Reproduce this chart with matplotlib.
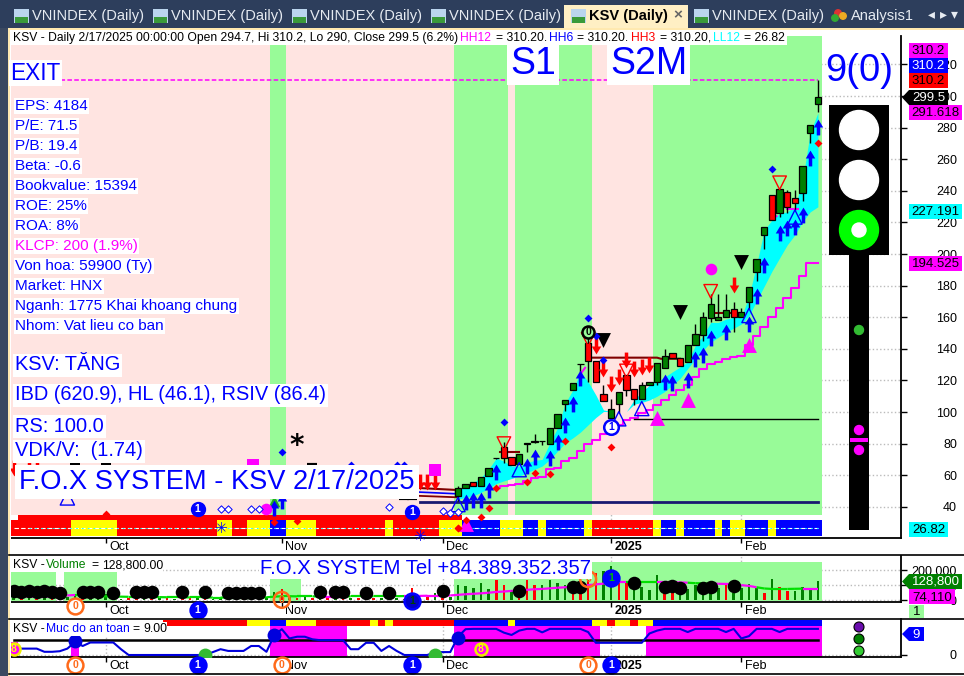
import matplotlib
matplotlib.use("Agg")
import matplotlib.pyplot as plt
from matplotlib.patches import Rectangle, Circle, Polygon
from matplotlib.transforms import ScaledTranslation

plt.rcParams["font.family"] = ["Liberation Sans", "DejaVu Sans"]

# ---- data ----
first_candle = 58
opens = [46.6,51.8,55.8,53.3,59.3,70.6,77.7,71.5,66.9,80.0,81.3,81.6,80,90.1,105.3,113.9,130.3,143.6,132.3,111.6,96.3,105.1,123.5,114.7,108.2,117,118.9,127.7,137.3,134.2,131.4,142.7,149,159.7,158,159.9,165.3,159.9,169.9,188.7,212.3,237.6,225.7,239.5,235.7,238.9,276.9,294.7]
highs = [53.3,54.5,55.8,58.9,64.6,70.9,81,71.5,73.5,80.4,86.1,81.8,89.6,98.6,107.8,118.5,130.5,152.6,132.3,117,108.2,112.8,123.5,114.7,118.7,119.1,131,140,137.3,134.2,142.3,155.7,163,174.5,174.5,174.5,169.9,166.1,179.3,196.9,216.9,237.6,241.4,240.7,240.7,255.8,281.5,310.2]
lows = [43.9,51.8,52.9,53.3,59.3,70.5,67.9,66.2,66.9,74.8,80.4,78.8,80,90.1,100.7,113.9,125.4,119.1,118.9,107,96.3,99.2,110.3,104.5,108.2,117,117,127.7,134,129.1,131.4,142.7,145.2,156.7,158,159.9,150.5,159.9,165.1,182.9,203.1,221.3,223.2,225.7,227.8,233.6,270,290]
closes = [52.2,54.5,52.9,58.9,64.6,70.9,70.8,66.2,73.5,80.2,81.6,81.8,89.6,98.6,107.8,118.5,130.5,132.1,118.9,107,102.2,112.8,113.9,108.4,117.2,119.1,131,135.4,134,129.1,142.3,149.2,159.9,168.6,159.9,164.7,159.9,163,179.3,196.9,216.9,221.3,241.4,229.5,232.6,255.8,281.5,299.5]

cyan_upper = [50.1,53.9,55.4,58.5,63.7,70.8,68.9,65.8,65.8,67.9,69.4,70,80.4,89.9,105.5,113.9,125.4,119.1,110.8,101.3,100.3,100.3,100.3,107.6,112.8,117,119.1,122.2,125.4,128.5,131.7,142.1,148.4,156.7,156.7,158.8,159.9,159.9,173.4,193.3,215.2,221.5,225.7,226.7,229.9,246.6,276.9,289.4]
cyan_lower = [44.9,45.9,47,49.1,51.8,54.7,56.4,57.9,59.5,61.6,63.7,65.8,70,75.2,80.4,83.6,87.3,91.9,96.5,100.3,100.3,100.3,100.3,104.9,106.1,107.6,110,113,117,121.2,127.5,133.7,139,144.2,147.3,150.5,153,155.7,160.9,170.3,179.7,189.1,197.5,205.8,212.1,220.5,226.7,229.9]

stair_start = 63
stair_line = [52.2,53.3,53.9,54.7,56.4,58.5,59.1,63.7,64.4,69,71,75.2,80,82.5,86.1,88.8,91.9,95.1,96.1,99.2,101.3,104.5,107.6,110.8,113.9,117,122.2,127.5,130.6,131.6,133.7,134.8,135.4,142.5,148.4,154,159.9,166.1,172.4,178.7,186,194.5,194.5]

arrow_up_bars = [59,60,61,62,63,67,68,70,71,72,73,74,85,86,88,89,90,91,93,96,97,98,100,101,102,103,104,105,34,35]
arrow_up_vals = [42.8,44.5,44.5,50.8,62.3,65.6,71.5,70.6,81.3,91.5,105.1,121.8,118.9,118.5,120.4,133.5,136,147.1,150.9,155.5,173.2,193.3,213.6,216.3,217.1,224.4,260.6,280.2,39.5,43.5]
arrow_dn_bars = [76,77,78,79,80,81,82,83,94,53,54,55,0,2,3]
arrow_dn_vals = [141.7,127,117.6,122.2,133.1,127.3,128.5,129.6,180.1,56,56,56,64.4,65.6,65.6]
black_tri_bars = [77,87,95]
black_tri_vals = [145.4,163,195]
red_hollow_bars = [64,75,80,91,100]
red_hollow_vals = [80,146,126,176.4,245.1]
blue_hollow_bars = [58,66,79,82,96,102,7]
blue_hollow_vals = [41.4,63.5,95.7,102.2,161.1,223.4,45.6]
magenta_up_bars = [59,84,88,96]
magenta_up_vals = [29,95.9,107.6,142.5]
red_dot_bars = [72,68,67,70,63,62,61,59,58,78,105,12,34,37,58]
red_dot_vals = [81.7,61.6,56,61,52.2,39.5,33.3,31.8,26.6,77.9,270.4,35.4,30.6,31,26.6]
blue_dot_bars = [75,64,77,76,99,35,44,50,51]
blue_dot_vals = [159.7,93.6,133.1,148.4,254.1,74.4,66.6,66.6,66.6]
open_dia_bars = [27,28,31,32,49,56,57,58]
open_dia_vals = [38.7,38.5,38.9,38.7,39.6,37.3,36.2,36.6]
black_bits_bars = [8,12,39,51,52]
black_bits_vals = [66.6,66.6,66.6,45.6,45.6]

green_spans = [(33.5,35.5),(57.5,64.5),(65.5,75.5),(83.5,105.5)]
strip_edges = [-0.36,7.5,13.5,26.5,28.5,30.5,33.5,35.5,39.5,48.5,49.5,55.5,58.5,63.5,66.5,68.5,69.5,74.5,75.5,83.5,84.5,86.5,87.5,91.5,92.5,93.5,95.5,98.5,99.5,105.5]
strip_cols = ["red","yellow","red","yellow","red","yellow","blue","yellow","red","yellow","red","yellow","blue","yellow","blue","yellow","blue","yellow","red","yellow","blue","yellow","blue","yellow","blue","yellow","blue","yellow","blue"]

month_bars = [12,35,56,78,95]
month_names = ["Oct","Nov","Dec","2025","Feb"]

volume = [18000,13000,20000,11000,15000,12000,16000,24000,42000,15000,12000,20000,42000,13000,9000,13000,11000,15000,9000,12000,14000,10000,12000,15000,13000,11000,9000,14000,16000,12000,15000,11000,13000,20000,57000,75000,30000,16000,24000,13000,20000,15000,11000,24000,13000,15000,11000,18000,13000,20000,15000,11000,79000,15000,20000,50000,18000,24000,101000,97000,79000,
          112000,73000,134000,101000,68000,24000,134000,101000,101000,134000,112000,101000,46000,46000,134000,178000,196000,227000,134000,117000,68000,86000,68000,167000,46000,46000,35000,73000,101000,46000,46000,79000,112000,46000,79000,108000,79000,46000,141000,90000,62000,62000,90000,68000,128800]
vol_cols = list("grgrgrgggrgggrgrrgrgrgrrgrggrgrgrggrgrgrgrgrgrgrgrgrrgrgrggg") + list("gggrrgrrrgggg") + list("rrrrgg") + list("rrggggr") + list("rggggggrgggg") + list("rgrrggg")
vol_ma = [26000,26000,25000,24000,24000,25000,30000,32000,35000,33000,30000,28000,26000,25000,24000,23000,23000,22000,22000,21000,20000,20000,20000,19000,19000,19000,18000,18000,17000,17000,17000,17000,18000,20000,24000,27000,27000,26000,26000,26000,25000,25000,25000,25000,26000,26000,26000,27000,27000,27000,27000,28000,28000,29000,30000,30000,30000,32000,36000,40000,43000,
          46000,50000,55000,58000,62000,65000,69000,73000,75000,79000,83000,86000,90000,95000,100000,105000,110000,115000,119000,119000,119000,119000,119000,119000,119000,119000,118000,116000,113000,112000,110000,109000,108000,106000,100000,95000,86000,78000,75000,75000,75000,76000,77000,77000,77000]
vol_ma_cols = list("m"*8) + list("g"*6) + list("g"*26) + list("m"*3) + list("g"*8) + list("m"*10) + list("m"*19) + list("g"*4) + list("m"*4) + list("g"*3) + list("m"*6) + list("g"*6) + list("m"*3)
vol_dot_bars = [0,1,2,3,4,5,6,9,10,11,13,16,17,18,22,25,28,29,30,31,32,40,42,43,46,49,56,66,73,74,81,85,86,87,90,91,94]
vol_dot_vals = [61000,55000,60000,58000,61000,58000,46000,57000,57000,55000,46000,52000,52000,52000,52000,52000,50000,48000,50000,48000,50000,52000,55000,57000,50000,50000,61000,64000,90000,86000,112000,90000,94000,79000,79000,90000,92000]
vol_green_spans = [(-0.36,5.5),(6.5,13.5),(33.5,37.5),(57.5,105.5)]

safety = [2.2,2.2,2.2,2.2,1.1,1.1,1.3,2.2,4.5,3.1,4.3,4.3,4.3,4.3,2,0,0,0,0,0,0,0,0,0,0,0,1,2,1.4,1.4,1.4,3.1,3.1,1.1,6.8,8.9,5.7,6.3,6.3,5.4,5.1,5.1,5.1,5.1,2,2,4.2,4.2,1.4,3.1,1.4,0,0,0,0,1,1,1,6.3,8.9,9,
          9,9,9,7.7,6.9,8.4,9,9,7.8,9,9,9,9,9,7.9,4.2,4.2,4.2,4.2,4.2,4.2,4.2,7.4,8.4,9,9,9,7.9,9,9,9,9,7.9,9,5.7,6.5,9,9,9,7.9,9,9,9,9,9]
safety_spans = [(-0.36,0.5),(7.5,8.5),(33.5,43.5),(57.5,76.5),(82.5,105.5)]
safety_tops = [4.5,3,10,10,10]
top_edges = [19.5,30.5,33.5,35.5,39.5,46.5,47.5,48.5,49.5,57.5,64.5,65.5,75.5,77.5,78.5,80.5,81.5,83.5,105.5]
top_cols = ["red","yellow","blue","yellow","red","yellow","red","yellow","red","blue","yellow","blue","yellow","red","yellow","red","yellow","blue"]

# ---- helpers ----
W, H = 964, 676
BLUE, MAG, PINK, LGREEN = "#0000FF", "#FF00FF", "#FFE4E1", "#98FB98"

fig = plt.figure(figsize=(W / 100, H / 100), dpi=100, facecolor="white")


def panel(top, bottom, ylim):
    a = fig.add_axes([11 / W, 1 - bottom / H, 890 / W, (bottom - top) / H])
    a.set_xlim(-0.36, 115.85)
    a.set_ylim(*ylim)
    a.set_axisbelow(True)
    a.grid(True, color="#BBBBBB", ls=":", lw=1)
    a.spines["top"].set_visible(False)
    a.spines["left"].set_visible(False)
    a.spines["right"].set_linewidth(1.3)
    a.spines["bottom"].set_linewidth(1.3)
    a.yaxis.tick_right()
    a.set_xticks(month_bars)
    a.set_xticklabels(month_names, fontsize=9)
    a.tick_params(axis="x", length=3.5, width=1, pad=-1.5)
    a.tick_params(axis="y", length=4.3, width=1, pad=36, labelsize=9)
    off = ScaledTranslation(2.5 / 72, 0, fig.dpi_scale_trans)
    for lab in a.get_xticklabels():
        lab.set_ha("left")
        lab.set_transform(lab.get_transform() + off)
        if lab.get_text() == "2025":
            lab.set_fontweight("bold")
    return a


def badge(a, x, y, txt, edge, face, col, size=130):
    a.scatter([x], [y], s=size, c=face, edgecolors=edge, linewidths=1.8, zorder=8, clip_on=False)
    a.text(x, y, txt, color=col, fontsize=7.5, fontweight="bold", ha="center", va="center", zorder=9, clip_on=False)


up_arrow = [(-0.22, -1), (0.22, -1), (0.22, 0), (0.6, 0), (0, 1), (-0.6, 0), (-0.22, 0), (-0.22, -1)]
dn_arrow = [(x, -y) for x, y in up_arrow]

# ---- main price panel ----
ax = panel(36, 538, (20.25, 338))
ax.set_yticks(range(40, 321, 20))
for lab in ax.get_yticklabels():
    lab.set_ha("right")
ax.axvspan(-0.36, 105.5, ymin=23 / 502, ymax=1, color=PINK, lw=0, zorder=1)
for a0, b0 in green_spans:
    ax.axvspan(a0, b0, ymin=23 / 502, ymax=1, color=LGREEN, lw=0, zorder=1.1)

for i in range(len(strip_cols)):
    ax.broken_barh([(strip_edges[i], strip_edges[i + 1] - strip_edges[i])], (21.5, 10.1), color=strip_cols[i], lw=0, zorder=2)
ax.broken_barh([(0.5, 58)], (31.6, 3.2), color="red", lw=0, zorder=2)
ax.plot([0, 105], [26.82, 26.82], color="white", lw=0.8, ls=(0, (4, 2)), zorder=3)
ax.plot([2, 105], [26.82, 26.82], color="cyan", lw=0.6, ls=(0, (2, 5)), zorder=3)

bars = list(range(first_candle, first_candle + len(opens)))
ax.fill_between(bars, cyan_lower, cyan_upper, color="cyan", lw=0, zorder=3)
ax.plot(range(stair_start, stair_start + len(stair_line)), stair_line, color=MAG, lw=1.5, drawstyle="steps-mid", zorder=4)
ax.plot([99, 99.6], [222, 224], color=MAG, lw=1.5, zorder=4)
ax.plot([101, 102.4], [228.5, 228.5], color=MAG, lw=1.5, zorder=4)
ax.plot([74, 74.6], [124, 128], color=MAG, lw=1.5, zorder=4)

ax.plot([2.5, 105], [310.2, 310.2], color=MAG, lw=1.1, ls=(0, (3, 1.5)), zorder=4)
ax.plot([53, 105], [43, 43], color="#191970", lw=2, zorder=4)
ax.plot([81, 105], [95.4, 95.4], color="black", lw=1, zorder=4)
ax.plot([52.5, 58], [52, 50.6], color="#800000", lw=1.5, zorder=4)
ax.plot([52.5, 58], [49.4, 48.2], color="blue", lw=1.2, zorder=4)
ax.plot([52.5, 58], [47, 46], color="#800000", lw=1.3, zorder=4)
ax.plot([63.5, 66], [74.4, 74.4], color="#800000", lw=1.5, zorder=4)
ax.plot([75, 84, 84.5, 87], [134.4, 134.4, 133.7, 133.7], color="#800000", lw=1.5, zorder=4)
ax.plot([91, 95], [162.6, 162.6], color="#800000", lw=1.5, zorder=4)

candle_cols = ["#008000" if c >= o else "red" for o, c in zip(opens, closes)]
ax.vlines(bars, lows, highs, color="black", lw=1, zorder=5)
ax.bar(bars, [c - o for o, c in zip(opens, closes)], bottom=opens, width=0.82, color=candle_cols, edgecolor="black", lw=0.9, zorder=6)

ax.scatter(arrow_up_bars, arrow_up_vals, marker=up_arrow, s=130, c=BLUE, linewidths=0, zorder=7)
ax.scatter(arrow_dn_bars, arrow_dn_vals, marker=dn_arrow, s=130, c="red", linewidths=0, zorder=7)
ax.scatter(black_tri_bars, black_tri_vals, marker="v", s=115, c="black", linewidths=0, zorder=7)
ax.scatter(red_hollow_bars, red_hollow_vals, marker="v", s=95, facecolors="none", edgecolors="red", linewidths=1, zorder=7)
ax.scatter(blue_hollow_bars, blue_hollow_vals, marker="^", s=105, facecolors="none", edgecolors=BLUE, linewidths=1, zorder=7)
ax.scatter(magenta_up_bars, magenta_up_vals, marker="^", s=115, c=MAG, linewidths=0, zorder=7)
ax.scatter([91], [190.6], s=70, c=MAG, linewidths=0, zorder=7)
ax.scatter([33], [38.7], s=70, c=MAG, linewidths=0, zorder=7)
ax.scatter([34], [43.5], marker="^", s=70, c="#22AA22", linewidths=0, zorder=6.5)
ax.scatter([31.2, 55], [66.5, 63], marker="s", s=70, c=MAG, linewidths=0, zorder=7)
ax.scatter(red_dot_bars, red_dot_vals, marker="D", s=16, c="red", linewidths=0, zorder=7.5)
ax.scatter(blue_dot_bars, blue_dot_vals, marker="D", s=16, c=BLUE, linewidths=0, zorder=7.5)
ax.scatter(open_dia_bars, open_dia_vals, marker="D", s=14, facecolors="white", edgecolors=BLUE, linewidths=0.7, zorder=7.5)
ax.scatter(black_bits_bars, black_bits_vals, marker="_", s=60, c="black", linewidths=3, zorder=6)
ax.text(37, 78.5, "*", fontsize=20, fontweight="bold", color="black", ha="center", va="center", zorder=8, family="DejaVu Sans")
ax.text(27, 26, "\u2733", fontsize=11, color=BLUE, ha="center", va="center", zorder=8, family="DejaVu Sans")
ax.text(53, 21, "\u2733", fontsize=11, color=BLUE, ha="center", va="center", zorder=8, family="DejaVu Sans", clip_on=False)
badge(ax, 78, 90.5, "1", BLUE, "white", BLUE, size=110)
badge(ax, 75, 150.5, "0", "black", LGREEN, "black", size=75)
badge(ax, 24, 38.3, "1", BLUE, BLUE, "white", size=85)
badge(ax, 52, 36.6, "1", BLUE, BLUE, "white", size=85)

# ---- volume panel ----
vax = panel(556, 602, (-11220, 292380))
vax.set_yticks([0, 100000, 200000])
vax.set_yticklabels(["0", "100,000", "200,000"])
for lab in vax.get_yticklabels():
    lab.set_ha("right")
for a0, b0 in vol_green_spans:
    vax.axvspan(a0, b0, ymin=0.02, ymax=0.87, color=LGREEN, lw=0, zorder=1)
vax.bar(range(len(volume)), volume, width=0.33,
        color=["#008000" if c == "g" else "red" for c in vol_cols], lw=0, zorder=3)
for i in range(len(vol_ma) - 1):
    vax.plot([i, i + 1], vol_ma[i:i + 2], color=MAG if vol_ma_cols[i] == "m" else "#00E000", lw=1.6, zorder=4, solid_capstyle="butt")
vax.scatter(vol_dot_bars, vol_dot_vals, s=95, c="black", linewidths=0, zorder=5)
badge(vax, 8, -37600, "0", "#FF6A1A", "white", "#FF6A1A")
badge(vax, 24, -64000, "1", BLUE, BLUE, "white")
badge(vax, 35, 3000, "0", "#FF6A1A", "none", "#FF6A1A")
badge(vax, 52, -2000, "1", BLUE, "#0000C8", "#004000")
badge(vax, 75, 140000, "0", "#FF6A1A", "none", "#FF6A1A")
badge(vax, 78, 147000, "1", BLUE, BLUE, "#00C000")

# ---- safety panel ----
sax = panel(619, 657, (-0.69, 12.4))
sax.set_yticks([0])
sax.set_yticklabels(["0"])
for lab in sax.get_yticklabels():
    lab.set_ha("right")
for (a0, b0), top in zip(safety_spans, safety_tops):
    sax.fill_between([a0, b0], -0.7, top, color=MAG, lw=0, zorder=1)
for i in range(len(top_cols)):
    sax.broken_barh([(top_edges[i], top_edges[i + 1] - top_edges[i])], (10, 1.9), color=top_cols[i], lw=0, zorder=2)
sax.plot(range(len(safety)), safety, color="#0000DD", lw=1.5, zorder=4)
sax.plot([0, 105], [5, 5], color="black", lw=1.8, zorder=3)
sax.scatter([8, 34, 58], [4.9, 6.9, 5.8], s=100, c="#0000DD", linewidths=0, zorder=5)
sax.scatter([25, 55], [0, 0], s=100, c="#33BB33", linewidths=0, zorder=5)
badge(sax, 0, 2, "8", "#EEEE00", MAG, "#FFFF00", size=75)
badge(sax, 61, 2, "8", "#EEEE00", MAG, "#FFFF00", size=75)
badge(sax, 8, -3.4, "0", "#FF6A1A", "white", "#FF6A1A")
badge(sax, 24, -3.4, "1", BLUE, BLUE, "white")
badge(sax, 35, -3.4, "0", "#FF6A1A", "white", "#FF6A1A")
badge(sax, 52, -3.4, "1", BLUE, BLUE, "white")
badge(sax, 75, -3.4, "0", "#FF6A1A", "white", "#FF6A1A")
badge(sax, 78, -3.4, "1", BLUE, BLUE, "white")

# ---- window chrome, traffic light, labels (pixel overlay) ----
ov = fig.add_axes([0, 0, 1, 1], facecolor="none", zorder=10)
ov.set_xlim(0, W)
ov.set_ylim(H, 0)
ov.axis("off")


def rect(x0, y0, x1, y1, col, z=1):
    ov.add_patch(Rectangle((x0, y0), x1 - x0, y1 - y0, facecolor=col, edgecolor="none", zorder=z))


def tag(x0, y0, x1, y1, col, txt, tcol="black", fs=9.5, arrow=False):
    rect(x0, y0, x1, y1, col, 6)
    if arrow:
        ov.add_patch(Polygon([(x0, y0), (x0 - 7, (y0 + y1) / 2), (x0, y1)], facecolor=col, edgecolor="none", zorder=6))
    ov.text((x0 + x1) / 2, (y0 + y1) / 2 + 0.5, txt, color=tcol, fontsize=fs, ha="center", va="center", zorder=7)


def label(x, y, txt, col, fs, box=True, pad=1.5):
    bb = dict(facecolor="white", edgecolor="none", pad=pad) if box else None
    ov.text(x, y, txt, color=col, fontsize=fs, ha="left", va="center", zorder=5, bbox=bb)


rect(0, 0, W, 28, "#2D3E5C")
rect(0, 28, 8, H, "#3A4860")
rect(8, 28, W, 30, "#FFE9B0")
rect(8, 30, 9.5, H, "#FFE9B0")
rect(9.5, 30, 11, H, "white")
rect(564, 5, 688, 28, "#FFEFC4", 2)
for tx in [32, 171, 310, 449, 712]:
    rect(tx - 18, 9, tx - 3, 23, "#BBD5EE", 3)
    rect(tx - 17, 17, tx - 4, 23, "#3A9A3A", 4)
    ov.text(tx, 16, "VNINDEX (Daily)", color="#E6EBF2", fontsize=10.5, va="center", zorder=5)
rect(571, 9, 586, 23, "#BBD5EE", 3)
rect(572, 17, 585, 23, "#3A9A3A", 4)
ov.text(589, 16, "KSV (Daily)", color="black", fontsize=10.5, fontweight="bold", va="center", zorder=5)
ov.text(678, 15, "\u00d7", color="#666666", fontsize=11, ha="center", va="center", zorder=5, fontweight="bold")
ov.scatter([838, 843, 835], [13, 16, 18], s=22, c=["#DD3333", "#EEAA22", "#33AA33"], zorder=4)
ov.text(851, 16, "Analysis1", color="#E6EBF2", fontsize=10.5, va="center", zorder=5)
ov.text(928, 14, "\u25c2", color="#E6EBF2", fontsize=10, va="center", zorder=5, family="DejaVu Sans")
ov.text(940, 14, "\u25b8", color="#E6EBF2", fontsize=10, va="center", zorder=5, family="DejaVu Sans")
ov.text(951, 14, "\u25be", color="#E6EBF2", fontsize=10, va="center", zorder=5, family="DejaVu Sans")

rect(11, 30, 787, 45, "white", 2)
title_bits = [(13, "KSV - Daily 2/17/2025 00:00:00 Open 294.7, Hi 310.2, Lo 290, Close 299.5 (6.2%)", "black"),
              (460, "HH12", MAG), (496, "= 310.20.", "black"), (549, "HH6", BLUE), (577, "= 310.20.", "black"),
              (631, "HH3", "red"), (660, "= 310.20,", "black"), (713, "LL12", "cyan"), (744, "= 26.82", "black")]
for tx, txt, col in title_bits:
    ov.text(tx, 38, txt, color=col, fontsize=8.7, va="center", zorder=5)

label(10, 73, "EXIT", BLUE, 16.3, pad=1)
label(510, 64, "S1", BLUE, 27, pad=2)
label(610, 64, "S2M", BLUE, 27, pad=2)
ov.text(825, 71, "9(0)", color=BLUE, fontsize=27.5, va="center", zorder=5)

info_lines = ["EPS: 4184", "P/E: 71.5", "P/B: 19.4", "Beta: -0.6", "Bookvalue: 15394", "ROE: 25%", "ROA: 8%",
              "KLCP: 200 (1.9%)", "Von hoa: 59900 (Ty)", "Market: HNX", "Nganh: 1775 Khai khoang chung", "Nhom: Vat lieu co ban"]
for i, line in enumerate(info_lines):
    label(15, 106 + 20 * i, line, MAG if line.startswith("KLCP") else BLUE, 11, pad=1)
label(15, 365, "KSV: T\u0102NG", BLUE, 14.4, pad=1.5)
label(15, 395, "IBD (620.9), HL (46.1), RSIV (86.4)", BLUE, 14.4, pad=1.5)
label(15, 426, "RS: 100.0", BLUE, 14.4, pad=1.5)
label(15, 451, "VDK/V:  (1.74)", BLUE, 14.4, pad=1.5)
label(19, 482, "F.O.X SYSTEM - KSV 2/17/2025", BLUE, 19.6, pad=3)
label(260, 568, "F.O.X SYSTEM Tel +84.389.352.357", BLUE, 14.7, pad=1)

# pane captions with their white backing
rect(11, 557, 163, 572, "white", 2)
for tx, txt, col in [(13, "KSV -", "black"), (46, "Volume", "#008000"), (91, "=", "black"), (102, "128,800.00", "black")]:
    ov.text(tx, 565, txt, color=col, fontsize=8.7, va="center", zorder=5)
rect(11, 622, 167, 636, "white", 2)
for tx, txt, col in [(13, "KSV -", "black"), (46, "Muc do an toan", BLUE), (132, "=", "black"), (143, "9.00", "black")]:
    ov.text(tx, 629, txt, color=col, fontsize=8.7, va="center", zorder=5)

# traffic light
rect(829, 105, 889, 255, "black", 3)
rect(849, 255, 869, 530, "black", 3)
ov.add_patch(Circle((859, 130), 19.5, color="white", zorder=4))
ov.add_patch(Circle((859, 180), 19.5, color="white", zorder=4))
ov.add_patch(Circle((859, 230), 19.5, color="#00FF00", zorder=4))
ov.add_patch(Circle((859, 230), 7, color="white", zorder=5))
ov.add_patch(Circle((859, 330), 4.5, color="#33BB33", zorder=4))
ov.add_patch(Circle((859, 430), 4.5, color=MAG, zorder=4))
ov.add_patch(Circle((859, 450), 4.5, color=MAG, zorder=4))
rect(850, 438, 868, 442, MAG, 5)

# right hand value tags
tag(909, 43, 948, 58, MAG, "310.2")
tag(909, 58, 948, 73, BLUE, "310.2", "white")
tag(909, 73, 948, 88, "red", "310.2")
tag(909, 90, 948, 105, "black", "299.5", "white", arrow=True)
tag(909, 105, 962, 120, MAG, "291.618")
tag(909, 204, 962, 219, "cyan", "227.191")
tag(909, 256, 962, 271, MAG, "194.525")
tag(909, 522, 948, 537, "cyan", "26.82")
tag(909, 574, 962, 589, "#008000", "128,800", "white", arrow=True)
tag(909, 589, 955, 604, MAG, "74,110")
tag(909, 605, 924, 618, LGREEN, "1")
tag(909, 627, 924, 641, BLUE, "9", "white", arrow=True)
for y, col in [(627, "#6A0DAD"), (639, "#008000"), (651, "#33CC33")]:
    ov.add_patch(Circle((859, y), 5, facecolor=col, edgecolor="black", lw=0.8, zorder=4))

# panel separators
for y in [555, 619, 674]:
    ov.plot([9, W], [y, y], color="black", lw=1.2, zorder=2)

fig.savefig("out.png", dpi=100)
